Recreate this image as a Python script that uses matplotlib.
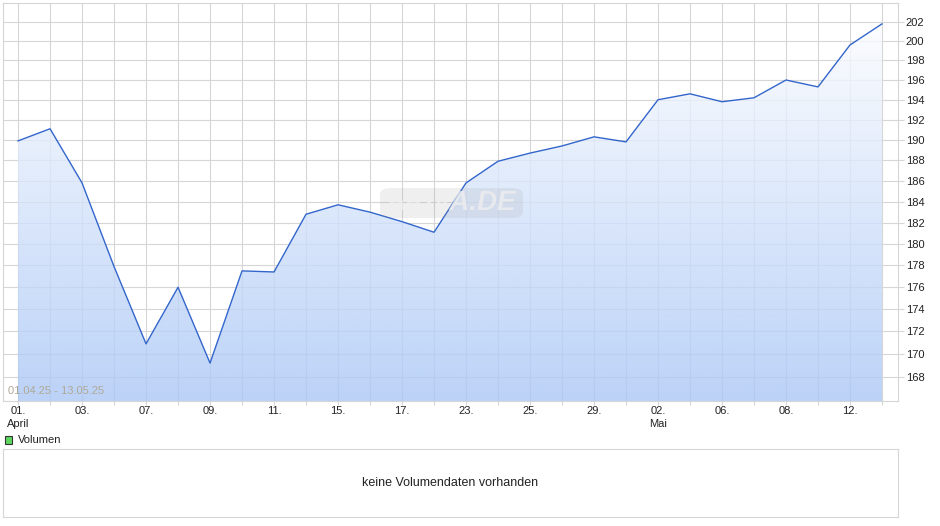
import numpy as np
import matplotlib
matplotlib.use("Agg")
import matplotlib.pyplot as plt
from matplotlib.ticker import FixedLocator, NullLocator
from matplotlib.patches import FancyBboxPatch

plt.rcParams['font.family'] = ['Liberation Sans', 'DejaVu Sans']

# Kursdaten 01.04.25 - 13.05.25 (Handelstage)
tage = ["01.", "02.", "03.", "04.", "07.", "08.", "09.", "10.", "11.", "14.",
        "15.", "16.", "17.", "22.", "23.", "24.", "25.", "28.", "29.", "30.",
        "02.", "05.", "06.", "07.", "08.", "09.", "12.", "13."]
kurs = [189.9, 191.1, 185.8, 177.9, 170.9, 176.0, 169.2, 177.5, 177.4, 182.8,
        183.7, 183.0, 182.1, 181.1, 185.8, 187.9, 188.7, 189.4, 190.3, 189.8,
        194.0, 194.6, 193.8, 194.2, 196.0, 195.3, 199.6, 201.8]
monate = {0: "April", 20: "Mai"}
y_ticks = list(range(168, 203, 2))

x = np.arange(len(kurs))

fig = plt.figure(figsize=(9.4, 5.26), dpi=100)
ax = fig.add_axes([3/940, 1-401/526, 895/940, 398/526])

ax.set_yscale("log")
ax.set_xlim(-0.47, 27.5)
ax.set_ylim(165.9, 204.0)

# Gitter
grau = "#d6d6d6"
for xi in x:
    ax.axvline(xi, color=grau, lw=0.8, zorder=1)
for yt in y_ticks:
    ax.axhline(yt, color=grau, lw=0.8, zorder=1)

# Flaeche mit Verlauf
poly = ax.fill_between(x, kurs, 165.9, color="none", lw=0, zorder=2)
grad = np.zeros((256, 1, 4))
t = np.linspace(0, 1, 256)[:, None]  # 0 = oben, 1 = unten
top = np.array([1.0, 1.0, 1.0])
bot = np.array([0.671, 0.784, 0.966])
grad[:, :, :3] = (top + (bot - top) * t)[:, None, :].reshape(256, 1, 3)
grad[:, :, 3] = 0.8
img = ax.imshow(grad, extent=(0, 1, 0, 1), transform=ax.transAxes,
                aspect="auto", zorder=2, interpolation="bilinear")
img.set_clip_path(poly.get_paths()[0], transform=ax.transData)

ax.plot(x, kurs, color="#3366cc", lw=1.0, zorder=3)

# Achsen
for s in ax.spines.values():
    s.set_color(grau)
    s.set_linewidth(0.8)

ax.yaxis.tick_right()
ax.yaxis.set_major_locator(FixedLocator(y_ticks))
ax.yaxis.set_minor_locator(NullLocator())
ax.set_yticklabels([str(v) for v in y_ticks])
ax.tick_params(axis="y", which="major", length=4, width=0.8, color=grau,
               pad=1.5, labelsize=8, labelcolor="#222222")

labels = []
for i, d in enumerate(tage):
    if i % 2 == 0:
        labels.append(d + ("\n" + monate[i] if i in monate else ""))
    else:
        labels.append("")
ax.set_xticks(x)
ax.set_xticklabels(labels, linespacing=1.45, multialignment="center")
ax.tick_params(axis="x", length=3, width=0.8, color=grau, pad=0.5,
               labelsize=8, labelcolor="#222222")

ax.text(0.006, 0.012, "01.04.25 - 13.05.25", transform=ax.transAxes,
        fontsize=8, color="#b0a898", ha="left", va="bottom", zorder=4)

# Wasserzeichen
wm = FancyBboxPatch((380/940, 1-218/526), 143/940, 30/526,
                    boxstyle="round,pad=0,rounding_size=0.012",
                    transform=fig.transFigure, fc="#999999", ec="none",
                    alpha=0.15, zorder=5)
fig.patches.append(wm)
fig.text(451/940, 1-203/526, "ARIVA.DE", fontsize=20, fontweight="bold",
         style="italic", color="white", alpha=0.75, ha="center", va="center")

# Volumen
fig.patches.append(plt.Rectangle((5/940, 1-444/526), 7/940, 8/526,
                                 transform=fig.transFigure, fc="#5cd65c",
                                 ec="#333333", lw=0.8))
fig.text(18/940, 1-440/526, "Volumen", fontsize=8, color="#222222",
         ha="left", va="center")

vax = fig.add_axes([3/940, 1-517/526, 895/940, 68/526])
vax.set_xticks([])
vax.set_yticks([])
for s in vax.spines.values():
    s.set_color(grau)
vax.text(0.5, 0.5, "keine Volumendaten vorhanden", transform=vax.transAxes,
         ha="center", va="center", fontsize=9, color="#222222")

fig.savefig("out.png", dpi=100)
